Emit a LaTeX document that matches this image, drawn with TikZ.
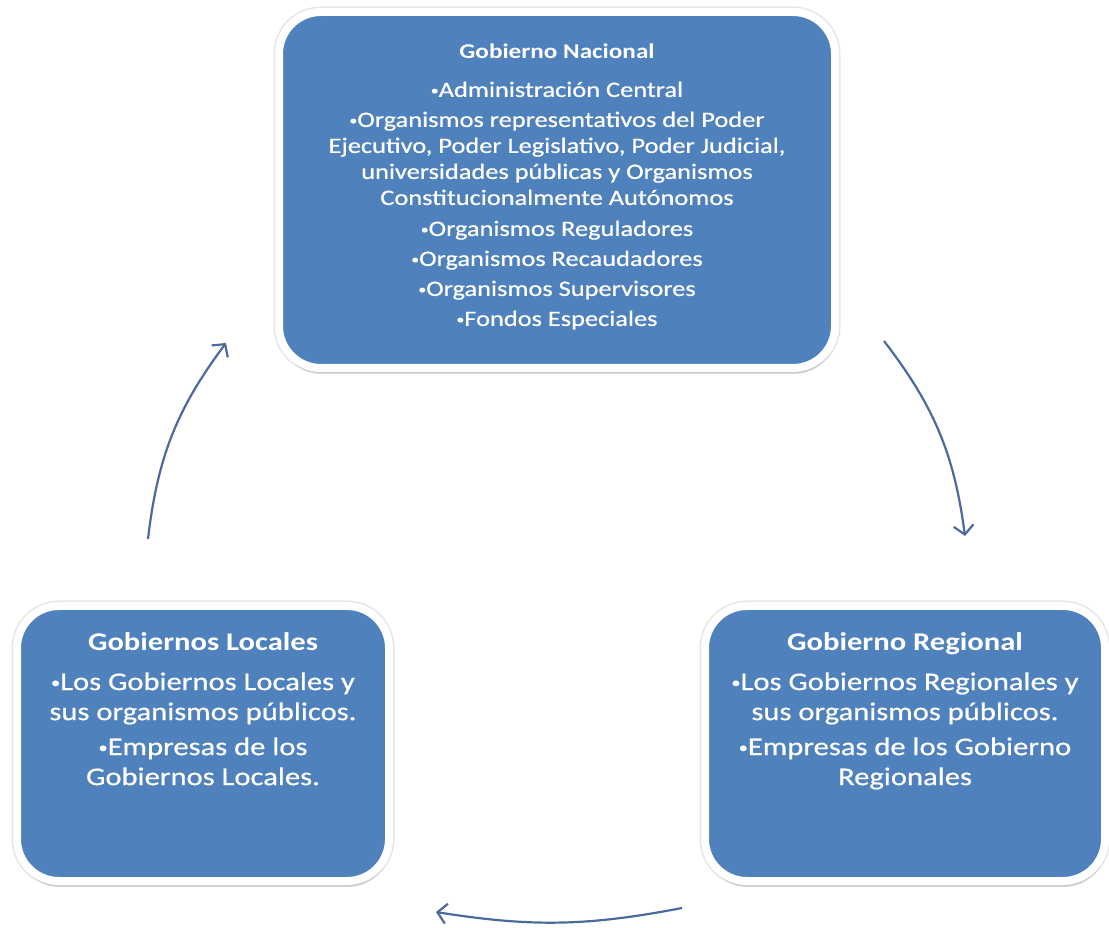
\documentclass[tikz,border=0pt]{standalone}
\usepackage{fontspec}
\setmainfont{Carlito}[FakeStretch=1.2, UprightFeatures={FakeBold=0.6}]
\usepackage{tikz}
\usetikzlibrary{positioning}
\usetikzlibrary{arrows.meta}
\usetikzlibrary{shadows}
\definecolor{boxblue}{RGB}{79,129,189}
\definecolor{arrowblue}{RGB}{76,106,158}
\newcommand{\bul}{\raisebox{0.2ex}{\scalebox{0.6}{•}}}

\begin{document}
\begin{tikzpicture}[x=1pt, y=1pt,
  govbox/.style={fill=boxblue, draw=white, line width=8pt, rounded corners=42pt,
    preaction={draw=black!10, line width=11pt},
    drop shadow={shadow xshift=1pt, shadow yshift=-6pt, opacity=0.25}},
  govtext/.style={text=white, align=center, anchor=north, inner sep=0pt},
  cyclearrow/.style={-{Straight Barb[length=9pt,width=20pt]}, line width=2.2pt, draw=arrowblue}]
  \useasboundingbox (0,0) rectangle (1109,927);
  % boxes %
  \node[govbox, minimum width=556pt, minimum height=356pt] (nac) at (557,737) {};
  \node[govbox, minimum width=372pt, minimum height=275pt] (loc) at (203,183.5) {};
  \node[govbox, minimum width=400pt, minimum height=275pt] (reg) at (905,183.5) {};
  % texts %
  \node[govtext, font=\fontsize{22}{26}\selectfont] (nactxt) at ([yshift=-36pt]nac.north)
    {{\bfseries\fontsize{21}{26}\selectfont Gobierno Nacional}\\[12pt]
     \bul Administración Central\\[4pt]
     \bul Organismos representativos del Poder\\
     Ejecutivo, Poder Legislativo, Poder Judicial,\\
     universidades públicas y Organismos\\
     Constitucionalmente Autónomos\\[5pt]
     \bul Organismos Reguladores\\[4pt]
     \bul Organismos Recaudadores\\[4pt]
     \bul Organismos Supervisores\\[4pt]
     \bul Fondos Especiales};
  \node[govtext, font=\fontsize{25.5}{30}\selectfont] (loctxt) at ([yshift=-30pt]loc.north)
    {{\bfseries Gobiernos Locales}\\[10pt]
     \bul Los Gobiernos Locales y\\
     sus organismos públicos.\\[5pt]
     \bul Empresas de los\\
     Gobiernos Locales.};
  \node[govtext, font=\fontsize{25.5}{30}\selectfont] (regtxt) at ([yshift=-30pt]reg.north)
    {{\bfseries Gobierno Regional}\\[10pt]
     \bul Los Gobiernos Regionales y\\
     sus organismos públicos.\\[5pt]
     \bul Empresas de los Gobierno\\
     Regionales};
  % arrows %
  \coordinate (nacout) at (884,586);
  \coordinate (regin) at (965,391);
  \coordinate (regout) at (682,19);
  \coordinate (locin) at (436,15);
  \coordinate (locout) at (148,388);
  \coordinate (nacin) at (226,584);
  \draw[cyclearrow] (nacout) to[bend left=15] (regin);
  \draw[cyclearrow] (regout) to[bend left=10] (locin);
  \draw[cyclearrow] (locout) to[bend left=15] (nacin);
\end{tikzpicture}
\end{document}
